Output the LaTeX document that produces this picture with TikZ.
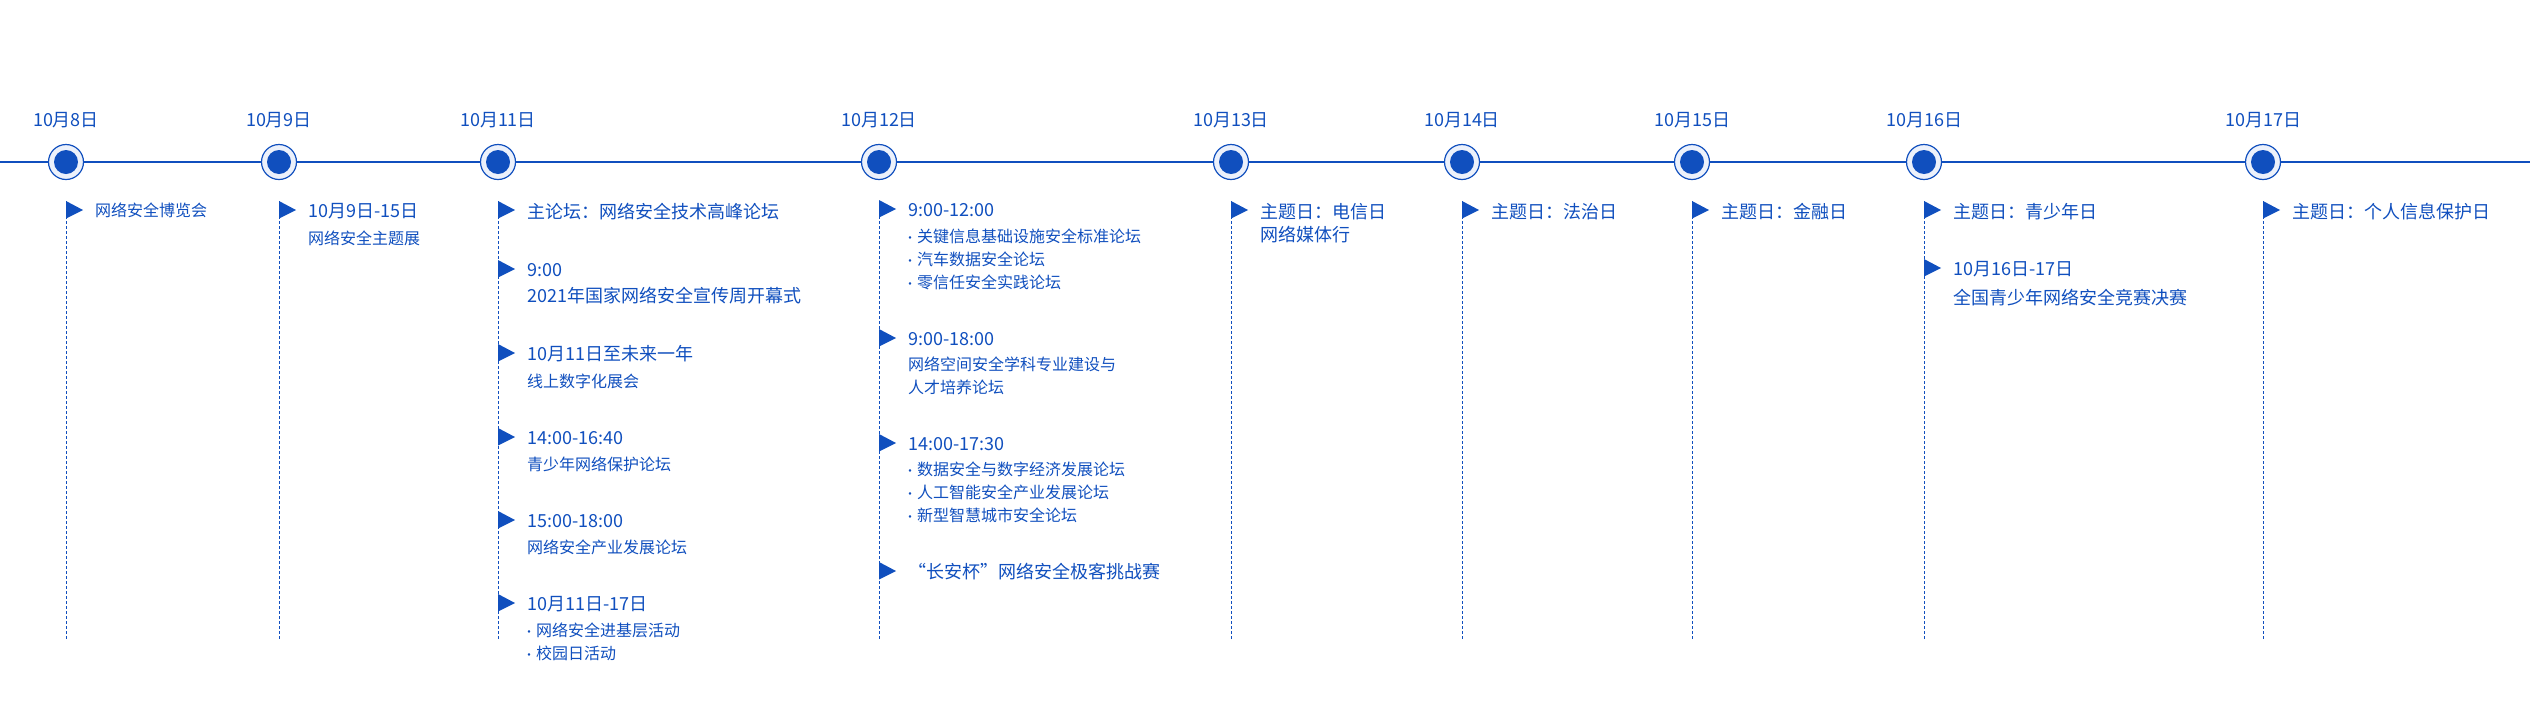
\documentclass[tikz,border=0pt]{standalone}
\usepackage{fontspec}
\setmainfont{Noto Sans CJK SC}
\usepackage{tikz}
\usetikzlibrary{positioning}
\definecolor{tlblue}{RGB}{16,79,190}
\definecolor{ringfill}{RGB}{236,241,251}
\tikzset{
	tline/.style={draw=tlblue, line width=2.6pt},
	vline/.style={draw=tlblue, line width=1pt, dash pattern=on 3pt off 2pt},
	dot/.style={circle, draw=tlblue, line width=1.2pt, fill=ringfill, minimum size=35pt, inner sep=0pt,
		path picture={\fill[tlblue] (path picture bounding box.center) circle (12pt);}},
	day/.style={anchor=base, text=tlblue, inner sep=0pt, font=\fontsize{18}{20}\selectfont},
	evhead/.style={anchor=base west, text=tlblue, inner sep=0pt, font=\fontsize{18}{20}\selectfont},
	evsub/.style={anchor=base west, text=tlblue, inner sep=0pt, font=\fontsize{16}{18}\selectfont},
}
\newcommand{\evmark}[2]{\fill[tlblue] (#1,#2-9) -- (#1+17,#2) -- (#1,#2+8.5) -- cycle;}
\newcommand{\bul}{\makebox[9pt][l]{\hspace*{-4pt}{\fontsize{12}{12}\selectfont ·}}}

\begin{document}
\begin{tikzpicture}[x=1pt, y=-1pt]
		\useasboundingbox (0,0) rectangle (2530,710);
		\coordinate (L0) at (0,162); \coordinate (L1) at (2530,162);
		\draw[tline] (L0)--(L1);
		% dates
		\node[dot] (D8) at (66,162) {};
		\node[dot] (D9) at (279,162) {};
		\node[dot] (D11) at (498,162) {};
		\node[dot] (D12) at (879,162) {};
		\node[dot] (D13) at (1231,162) {};
		\node[dot] (D14) at (1462,162) {};
		\node[dot] (D15) at (1692,162) {};
		\node[dot] (D16) at (1924,162) {};
		\node[dot] (D17) at (2263,162) {};
		\node[day] (T8) at (66,126) {10月8日};
		\node[day] (T9) at (279,126) {10月9日};
		\node[day] (T11) at (498,126) {10月11日};
		\node[day] (T12) at (879,126) {10月12日};
		\node[day] (T13) at (1231,126) {10月13日};
		\node[day] (T14) at (1462,126) {10月14日};
		\node[day] (T15) at (1692,126) {10月15日};
		\node[day] (T16) at (1924,126) {10月16日};
		\node[day] (T17) at (2263,126) {10月17日};
		% dashed lines
		\coordinate (V8a) at (66,201); \coordinate (V8b) at (66,640); \draw[vline] (V8a)--(V8b);
		\coordinate (V9a) at (279,201); \coordinate (V9b) at (279,640); \draw[vline] (V9a)--(V9b);
		\coordinate (V11a) at (498,201); \coordinate (V11b) at (498,640); \draw[vline] (V11a)--(V11b);
		\coordinate (V12a) at (879,201); \coordinate (V12b) at (879,640); \draw[vline] (V12a)--(V12b);
		\coordinate (V13a) at (1231,201); \coordinate (V13b) at (1231,640); \draw[vline] (V13a)--(V13b);
		\coordinate (V14a) at (1462,201); \coordinate (V14b) at (1462,640); \draw[vline] (V14a)--(V14b);
		\coordinate (V15a) at (1692,201); \coordinate (V15b) at (1692,640); \draw[vline] (V15a)--(V15b);
		\coordinate (V16a) at (1924,201); \coordinate (V16b) at (1924,640); \draw[vline] (V16a)--(V16b);
		\coordinate (V17a) at (2263,201); \coordinate (V17b) at (2263,640); \draw[vline] (V17a)--(V17b);
		% 10月8日, 10月9日
		\evmark{66}{210} \node[evsub] (E8a) at (95,216) {网络安全博览会};
		\evmark{279}{210} \node[evhead] (E9a) at (308,217) {10月9日-15日};
		\node[evsub] (E9b) at (308,244) {网络安全主题展};
		% 10月11日
		\evmark{498}{210} \node[evhead] (E11a) at (527,218) {主论坛：网络安全技术高峰论坛};
		\evmark{498}{269} \node[evhead] (E11b) at (527,276) {9:00};
		\node[evhead] (E11c) at (527,302) {2021年国家网络安全宣传周开幕式};
		\evmark{498}{353} \node[evhead] (E11d) at (527,360) {10月11日至未来一年};
		\node[evsub] (E11e) at (527,387) {线上数字化展会};
		\evmark{498}{437} \node[evhead] (E11f) at (527,444) {14:00-16:40};
		\node[evsub] (E11g) at (527,470) {青少年网络保护论坛};
		\evmark{498}{520} \node[evhead] (E11h) at (527,527) {15:00-18:00};
		\node[evsub] (E11i) at (527,553) {网络安全产业发展论坛};
		\evmark{498}{603} \node[evhead] (E11j) at (527,610) {10月11日-17日};
		\node[evsub] (E11k) at (527,636) {\bul 网络安全进基层活动};
		\node[evsub] (E11l) at (527,659) {\bul 校园日活动};
		% 10月12日
		\evmark{879}{209} \node[evhead] (E12a) at (908,216) {9:00-12:00};
		\node[evsub] (E12b) at (908,242) {\bul 关键信息基础设施安全标准论坛};
		\node[evsub] (E12c) at (908,265) {\bul 汽车数据安全论坛};
		\node[evsub] (E12d) at (908,288) {\bul 零信任安全实践论坛};
		\evmark{879}{338} \node[evhead] (E12e) at (908,345) {9:00-18:00};
		\node[evsub] (E12f) at (908,370) {网络空间安全学科专业建设与};
		\node[evsub] (E12g) at (908,393) {人才培养论坛};
		\evmark{879}{443} \node[evhead] (E12h) at (908,450) {14:00-17:30};
		\node[evsub] (E12i) at (908,475) {\bul 数据安全与数字经济发展论坛};
		\node[evsub] (E12j) at (908,498) {\bul 人工智能安全产业发展论坛};
		\node[evsub] (E12k) at (908,521) {\bul 新型智慧城市安全论坛};
		\evmark{879}{571} \node[evhead] (E12l) at (908,578) {“长安杯”网络安全极客挑战赛};
		% 10月13日 -- 10月17日
		\evmark{1231}{210} \node[evhead] (E13a) at (1260,218) {主题日：电信日};
		\node[evhead] (E13b) at (1260,241) {网络媒体行};
		\evmark{1462}{210} \node[evhead] (E14a) at (1491,218) {主题日：法治日};
		\evmark{1692}{210} \node[evhead] (E15a) at (1721,218) {主题日：金融日};
		\evmark{1924}{210} \node[evhead] (E16a) at (1953,218) {主题日：青少年日};
		\evmark{1924}{268} \node[evhead] (E16b) at (1953,275) {10月16日-17日};
		\node[evhead] (E16c) at (1953,304) {全国青少年网络安全竞赛决赛};
		\evmark{2263}{210} \node[evhead] (E17a) at (2292,218) {主题日：个人信息保护日};
\end{tikzpicture}
\end{document}
